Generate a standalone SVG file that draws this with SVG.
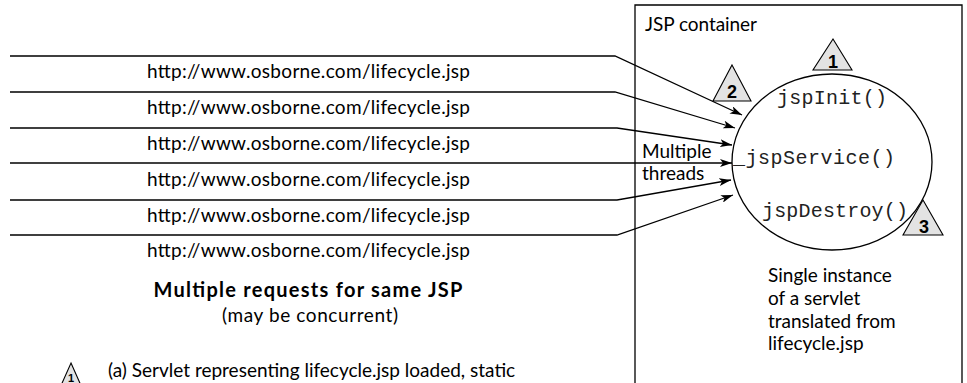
<svg xmlns="http://www.w3.org/2000/svg" width="967" height="383" viewBox="0 0 967 383">
<defs>
<marker id="arr" viewBox="0 0 12 8" refX="12" refY="4" markerWidth="12" markerHeight="8" markerUnits="userSpaceOnUse" orient="auto">
<path d="M0,0 L12,4 L0,8 L3,4 Z" fill="#000"/>
</marker>
</defs>
<style>
.t{font-family:Lato,"Open Sans","Liberation Sans",sans-serif;font-size:19px;fill:#000}
.b{font-weight:bold;font-size:20px}
.m{font-family:"Liberation Mono","DejaVu Sans Mono",monospace;font-size:20px;fill:#222}
.ln{fill:none;stroke:#000;stroke-width:1.3}
.tri{fill:#e3e3e3;stroke:#000;stroke-width:1.1}
.n{font-family:"Liberation Sans",Arial,sans-serif;font-weight:bold;font-size:18px;text-anchor:middle;fill:#000}
</style>
<rect width="967" height="383" fill="#fff"/>

<g id="container">
<path class="ln" d="M635,400 L635,5 L962,5 L962,400"/>
<text class="t" x="645" y="31" textLength="112">JSP container</text>
</g>

<g id="servlet">
<ellipse class="ln" cx="832" cy="162" rx="100" ry="88"/>
<text class="m" x="777" y="104" textLength="110">jspInit()</text>
<text class="m" x="733" y="164" textLength="162">_jspService()</text>
<text class="m" x="762" y="217" textLength="146">jspDestroy()</text>
</g>

<g id="tri1">
<polygon class="tri" points="833,39 852,70 813,70"/>
<text class="n" x="833" y="68">1</text>
</g>
<g id="tri2">
<polygon class="tri" points="732,65 751,101 713,101"/>
<text class="n" x="732" y="98">2</text>
</g>
<g id="tri3">
<polygon class="tri" points="923,200 943,235 903,235"/>
<text class="n" x="924" y="233">3</text>
</g>

<g id="requests">
<text class="t" x="147" y="78" textLength="323">http://www.osborne.com/lifecycle.jsp</text>
<text class="t" x="147" y="114" textLength="323">http://www.osborne.com/lifecycle.jsp</text>
<text class="t" x="147" y="150" textLength="323">http://www.osborne.com/lifecycle.jsp</text>
<text class="t" x="147" y="186" textLength="323">http://www.osborne.com/lifecycle.jsp</text>
<text class="t" x="147" y="222" textLength="323">http://www.osborne.com/lifecycle.jsp</text>
<text class="t" x="147" y="257" textLength="323">http://www.osborne.com/lifecycle.jsp</text>
</g>

<g id="connectors">
<polyline class="ln" marker-end="url(#arr)" points="10,56 615,56 742,115"/>
<polyline class="ln" marker-end="url(#arr)" points="10,92 615,92 735,128"/>
<polyline class="ln" marker-end="url(#arr)" points="10,128 617,128 732,145"/>
<polyline class="ln" marker-end="url(#arr)" points="10,163 732,163"/>
<polyline class="ln" marker-end="url(#arr)" points="10,200 617,200 731,180"/>
<polyline class="ln" marker-end="url(#arr)" points="10,235 617,235 733,195"/>
</g>

<g id="threads-label">
<text class="t" x="642" y="158">Multiple</text>
<text class="t" x="642" y="180">threads</text>
</g>

<g id="instance-label">
<text class="t" x="768" y="282">Single instance</text>
<text class="t" x="768" y="305">of a servlet</text>
<text class="t" x="768" y="328">translated from</text>
<text class="t" x="768" y="350">lifecycle.jsp</text>
</g>

<g id="caption">
<text class="t b" x="308" y="297" text-anchor="middle" textLength="309">Multiple requests for  same JSP</text>
<text class="t" x="310" y="322" text-anchor="middle" textLength="176">(may be concurrent)</text>
</g>

<g id="legend">
<polygon class="tri" points="71,363 83,390 59,390"/>
<text class="n" x="71" y="382" style="font-size:11px">1</text>
<text class="t" x="108" y="377">(a) Servlet representing lifecycle.jsp loaded, static</text>
</g>
</svg>
